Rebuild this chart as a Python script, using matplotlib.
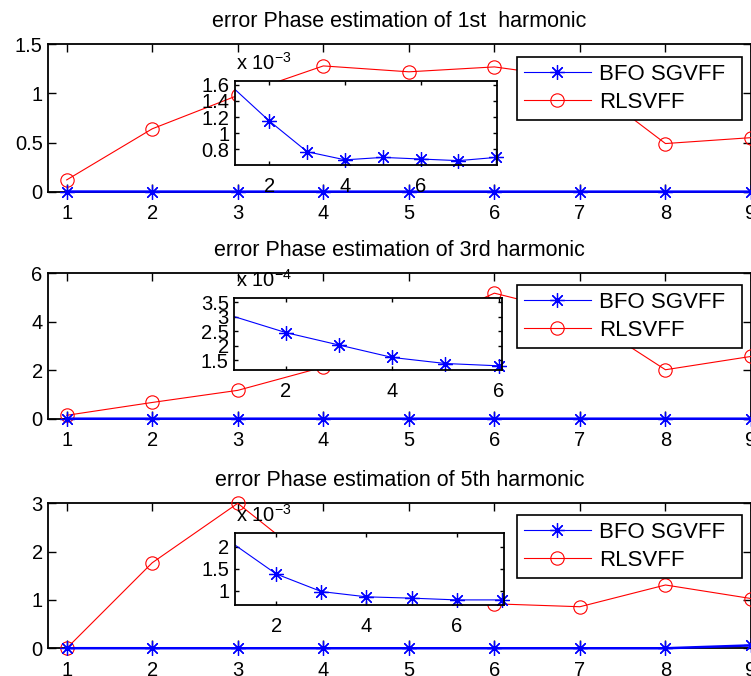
import numpy as np
import matplotlib.pyplot as plt
from matplotlib.ticker import FuncFormatter

harm = [1, 2, 3, 4, 5, 6, 7, 8, 9]

# RLSVFF phase estimation error
rls_h1 = [0.12, 0.64, 0.98, 1.28, 1.22, 1.27, 1.15, 0.49, 0.55]
rls_h3 = [0.14, 0.67, 1.17, 2.13, 3.6, 5.18, 4.3, 2.02, 2.57]
rls_h5 = [0.0, 1.77, 3.0, 1.59, 1.2, 0.92, 0.86, 1.31, 1.03]

# BFO SGVFF phase estimation error
bfo_h1 = [1.58e-3, 1.15e-3, 0.77e-3, 0.67e-3, 0.70e-3, 0.68e-3, 0.66e-3, 0.70e-3, 0.70e-3]
bfo_h3 = [3.02e-4, 2.45e-4, 2.02e-4, 1.59e-4, 1.38e-4, 1.30e-4, 1.30e-4, 1.30e-4, 1.30e-4]
bfo_h5 = [2.10e-3, 1.38e-3, 0.98e-3, 0.86e-3, 0.83e-3, 0.79e-3, 0.79e-3, 0.80e-3, 0.06]

titles = ['error Phase estimation of 1st  harmonic',
          'error Phase estimation of 3rd harmonic',
          'error Phase estimation of 5th harmonic']
main_yticks = [[0, 0.5, 1, 1.5], [0, 2, 4, 6], [0, 1, 2, 3]]
inset_yticks = [[0.8e-3, 1.0e-3, 1.2e-3, 1.4e-3, 1.6e-3],
                [1.5e-4, 2.0e-4, 2.5e-4, 3.0e-4, 3.5e-4],
                [1.0e-3, 1.5e-3, 2.0e-3]]
inset_xticks = [[2, 4, 6], [2, 4, 6], [2, 4, 6]]
inset_exp = [-3, -4, -3]

plt.rcParams['font.family'] = 'Liberation Sans'
plt.rcParams['mathtext.fontset'] = 'custom'
plt.rcParams['mathtext.rm'] = 'Liberation Sans'
plt.rcParams['mathtext.it'] = 'Liberation Sans'
plt.rcParams['axes.linewidth'] = 1.3

W, H = 751, 676
fig = plt.figure(figsize=(W / 100, H / 100), dpi=100)


def box(left, top, right, bottom):
    # pixel box -> figure fraction
    return [left / W, 1 - bottom / H, (right - left) / W, (bottom - top) / H]


STAR = (8, 2, 0)
FS = 14.5

main_boxes = [box(48.3, 44.3, 751, 191.7),
              box(48.3, 273.3, 751, 418.7),
              box(48.3, 503.3, 751, 648.3)]
inset_boxes = [box(235, 80.7, 497, 165),
               box(234.3, 298.3, 501.7, 370),
               box(235, 532.7, 504, 605)]
inset_xlims = [(1.09, 8.02), (1.027, 6.06), (1.085, 7.05)]
inset_ylims = [(0.606e-3, 1.65e-3), (1.155e-4, 3.64e-4), (0.674e-3, 2.32e-3)]
legend_tops = [56.7, 285.0, 515.0]

rls_all = [rls_h1, rls_h3, rls_h5]
bfo_all = [bfo_h1, bfo_h3, bfo_h5]

for i in range(3):
    ax = fig.add_axes(main_boxes[i])
    ax.plot(harm, rls_all[i], color='r', lw=0.8, marker='o', ms=9.6,
            mfc='none', mew=0.8, clip_on=False, zorder=3)
    ax.plot(harm, bfo_all[i], color='b', lw=1.8, marker=STAR, ms=10.5,
            mew=0.9, clip_on=False, zorder=3)
    ax.set_xlim(0.785, 9)
    ax.set_ylim(0, main_yticks[i][-1])
    ax.set_xticks(harm)
    ax.set_yticks(main_yticks[i])
    ax.yaxis.set_major_formatter(FuncFormatter(lambda v, p: '%g' % v))
    ax.tick_params(direction='in', top=True, right=True, length=6, width=1,
                   labelsize=FS)
    ax.tick_params(axis='x', pad=8.8)
    ax.tick_params(axis='y', pad=4)
    ax.set_title(titles[i], fontsize=15.5, pad=12.5)

    # zoomed view of the BFO SGVFF curve
    ins = fig.add_axes(inset_boxes[i])
    lo, hi = inset_xlims[i]
    xs = np.array(harm)
    ys = np.array(bfo_all[i])
    ins.plot(xs, ys, color='b', lw=0.8)
    keep = (xs >= lo) & (xs <= hi)
    ins.plot(xs[keep], ys[keep], ls='none', marker=STAR, ms=10.5, mec='b',
             mew=0.9, clip_on=False)
    ins.set_xlim(lo, hi)
    ins.set_ylim(*inset_ylims[i])
    ins.set_xticks(inset_xticks[i])
    ins.set_yticks(inset_yticks[i])
    e = inset_exp[i]
    ins.yaxis.set_major_formatter(
        FuncFormatter(lambda v, p, e=e: '%g' % round(v / 10.0 ** e, 6)))
    ins.tick_params(direction='in', top=True, right=True, length=3, width=1,
                    labelsize=FS)
    ins.tick_params(axis='x', pad=8.6)
    ins.tick_params(axis='y', pad=4)
    ins.annotate('x 10$^{%d}$' % e, xy=(0, 1), xycoords='axes fraction',
                 xytext=(1, 8), textcoords='offset points', ha='left',
                 va='baseline', fontsize=FS)

    leg_handles = [plt.Line2D([], [], color='b', lw=0.8, marker=STAR, ms=10.5, mew=0.9),
                   plt.Line2D([], [], color='r', lw=0.8, marker='o', ms=9.6,
                              mfc='none', mew=0.8)]
    top = legend_tops[i]
    leg = ax.legend(leg_handles, ['BFO SGVFF', 'RLSVFF'], loc='upper left',
                    bbox_to_anchor=(516.7 / W, 1 - top / H, 225 / W, 0.0),
                    bbox_transform=fig.transFigure, mode='expand',
                    borderaxespad=0, fontsize=16, numpoints=1,
                    handlelength=3.05, handletextpad=0.35, borderpad=0.31,
                    labelspacing=0.32, fancybox=False, framealpha=1,
                    edgecolor='black')
    leg.get_frame().set_linewidth(1.2)

fig.savefig('out.png', dpi=100)
